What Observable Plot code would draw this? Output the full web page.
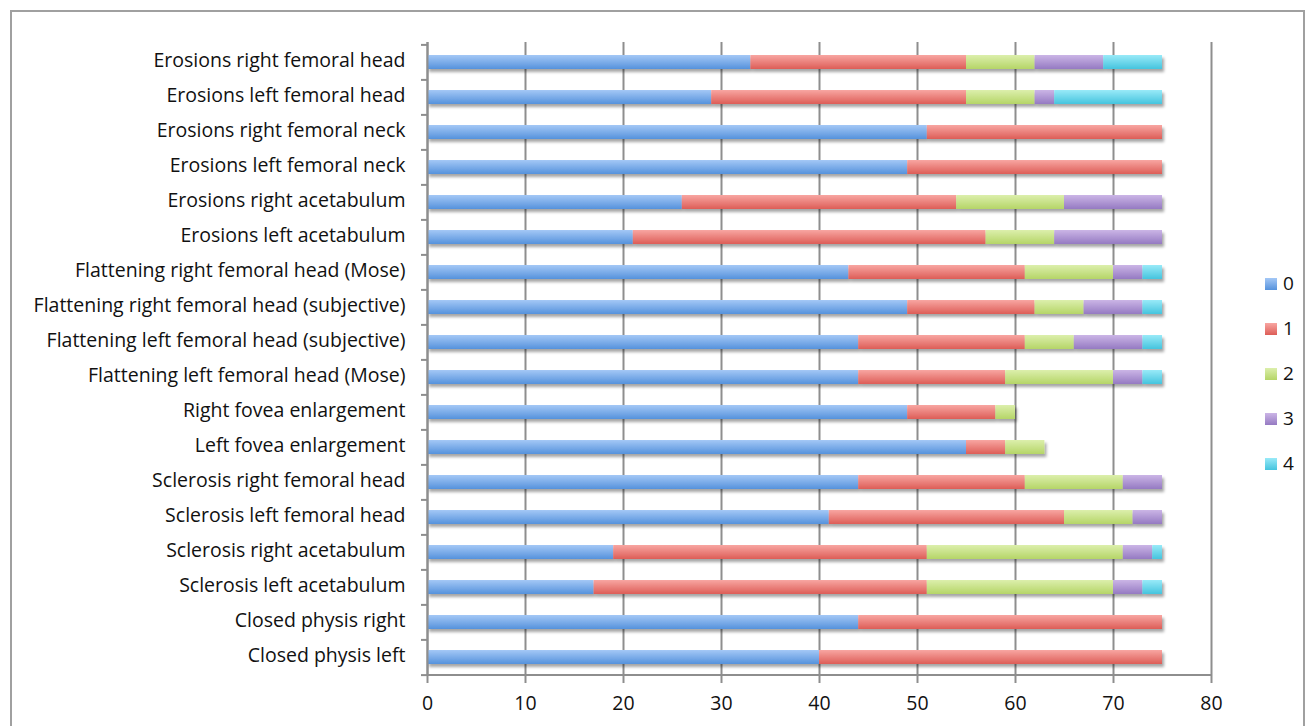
<!DOCTYPE html>
<html>
<head>
<meta charset="utf-8">
<script src="https://cdn.jsdelivr.net/npm/d3@7"></script>
<script src="https://cdn.jsdelivr.net/npm/@observablehq/plot@0.6"></script>
<style>
  html, body { margin: 0; padding: 0; background: #fff; }
  #wrap { position: relative; width: 1312px; height: 726px; overflow: hidden; font-family: "Open Sans", Lato, sans-serif; }
  #border { position: absolute; left: 10px; top: 10px; width: 1295px; height: 730px; border: 2px solid #a0a0a0; box-sizing: border-box; pointer-events: none; }
  #legend { position: absolute; left: 1265px; top: 270px; font-size: 19px; color: #111; }
  #legend .item { height: 45px; display: flex; align-items: flex-start; }
  #legend .sw { width: 12px; height: 12px; margin-top: 8px; margin-right: 6px; }
</style>
</head>
<body>
<div id="wrap">
  <div id="chart"></div>
  <div id="border"></div>
  <div id="legend"></div>
</div>
<script>
const categories = [
  "Erosions right femoral head",
  "Erosions left femoral head",
  "Erosions right femoral neck",
  "Erosions left femoral neck",
  "Erosions right acetabulum",
  "Erosions left acetabulum",
  "Flattening right femoral head (Mose)",
  "Flattening right femoral head (subjective)",
  "Flattening left femoral head (subjective)",
  "Flattening left femoral head (Mose)",
  "Right fovea enlargement",
  "Left fovea enlargement",
  "Sclerosis right femoral head",
  "Sclerosis left femoral head",
  "Sclerosis right acetabulum",
  "Sclerosis left acetabulum",
  "Closed physis right",
  "Closed physis left"
];
const level0 = [33, 29, 51, 49, 26, 21, 43, 49, 44, 44, 49, 55, 44, 41, 19, 17, 44, 40];
const level1 = [22, 26, 24, 26, 28, 36, 18, 13, 17, 15, 9, 4, 17, 24, 32, 34, 31, 35];
const level2 = [7, 7, 0, 0, 11, 7, 9, 5, 5, 11, 2, 4, 10, 7, 20, 19, 0, 0];
const level3 = [7, 2, 0, 0, 10, 11, 3, 6, 7, 3, 0, 0, 4, 3, 3, 3, 0, 0];
const level4 = [6, 11, 0, 0, 0, 0, 2, 2, 2, 2, 0, 0, 0, 0, 1, 2, 0, 0];
const levels = ["0", "1", "2", "3", "4"];
const xTicks = [0, 10, 20, 30, 40, 50, 60, 70, 80];

const gradStops = [
  ["#a4c8f6", "#5592dc"],
  ["#f8a6a2", "#dd5d57"],
  ["#dcefac", "#b5d567"],
  ["#cbb5e6", "#957ac2"],
  ["#99eaf8", "#45c4de"]
];

const series = [level0, level1, level2, level3, level4];
const data = [];
categories.forEach((cat, i) => {
  levels.forEach((lv, k) => {
    data.push({cat, level: lv, value: series[k][i]});
  });
});

const W = 1312, H = 726, mT = 42, mB = 50, mL = 427, mR = 101;
const step = (H - mT - mB) / categories.length;
const gridColor = "#8e8e8e";
const fontFam = "'Open Sans', Lato, sans-serif";

const plot = Plot.plot({
  width: W, height: H,
  marginTop: mT, marginBottom: mB, marginLeft: mL, marginRight: mR,
  style: {fontFamily: fontFam, fontSize: "19.5px", color: "#111", background: "transparent"},
  x: {domain: [0, 80], axis: null, label: null},
  y: {domain: categories, paddingInner: 0.6, paddingOuter: 0.3, axis: null, label: null},
  color: {domain: levels, range: levels.map((_, k) => `url(#grad${k})`)},
  marks: [
    Plot.gridX(xTicks, {stroke: gridColor, strokeWidth: 2, strokeOpacity: 1}),
    Plot.barX(data, Plot.stackX({x: "value", y: "cat", fill: "level"})),
    Plot.ruleX([0], {stroke: gridColor, strokeWidth: 2}),
    Plot.ruleY([categories[categories.length - 1]], {stroke: gridColor, strokeWidth: 2, dy: step / 2}),
    Plot.axisX(xTicks, {anchor: "bottom", label: null, tickSize: 7, tickPadding: 13, stroke: gridColor, strokeWidth: 2, fill: "#111", fontSize: 19.5}),
    Plot.axisY(categories, {anchor: "left", label: null, tickSize: 6, tickFormat: () => "", stroke: gridColor, strokeWidth: 2, dy: -step / 2}),
    Plot.axisY([categories[categories.length - 1]], {anchor: "left", label: null, tickSize: 6, tickFormat: () => "", stroke: gridColor, strokeWidth: 2, dy: step / 2}),
    Plot.axisY(categories, {anchor: "left", label: null, tickSize: 0, tickPadding: 22, fill: "#111", fontSize: 19.5, dy: -1.5})
  ]
});

document.getElementById("chart").appendChild(plot);

const svg = d3.select(plot);
const defs = svg.insert("defs", ":first-child");
gradStops.forEach((s, k) => {
  const g = defs.append("linearGradient").attr("id", `grad${k}`)
    .attr("x1", 0).attr("y1", 0).attr("x2", 0).attr("y2", 1);
  g.append("stop").attr("offset", "0%").attr("stop-color", s[0]);
  g.append("stop").attr("offset", "100%").attr("stop-color", s[1]);
});
const f = defs.append("filter").attr("id", "shadow").attr("x", "-5%").attr("y", "-50%").attr("width", "110%").attr("height", "220%");
f.append("feDropShadow").attr("dx", 2).attr("dy", 3).attr("stdDeviation", 1.6).attr("flood-color", "#000").attr("flood-opacity", 0.35);
svg.selectAll('g[aria-label="bar"]').attr("filter", "url(#shadow)");

const legend = d3.select("#legend");
levels.forEach((lv, k) => {
  const it = legend.append("div").attr("class", "item");
  it.append("div").attr("class", "sw").style("background", `linear-gradient(${gradStops[k][0]}, ${gradStops[k][1]})`);
  it.append("span").text(lv);
});
</script>
</body>
</html>
